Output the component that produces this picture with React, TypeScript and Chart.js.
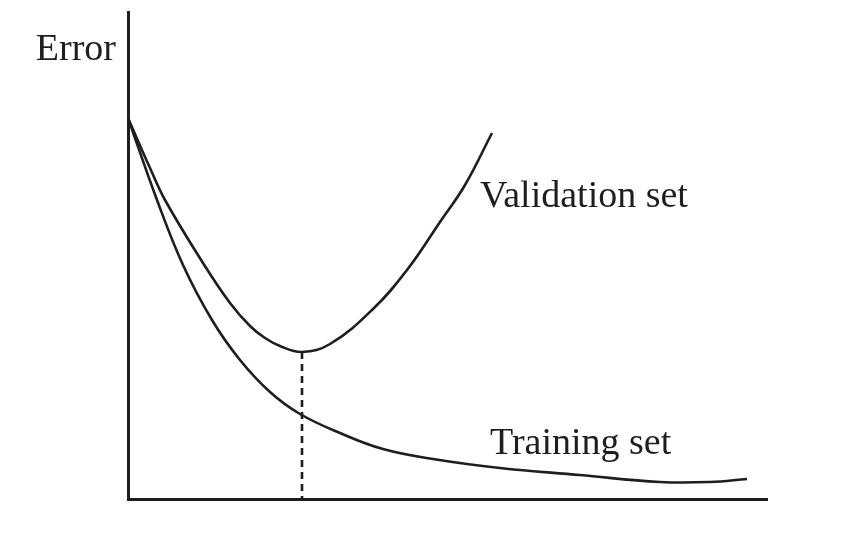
import React, { useEffect, useRef } from "react";
import { Chart, registerables } from "chart.js";

Chart.register(...registerables);

// Values (x: training time units, y: error units)
const validationX = [0, 22, 37, 75, 102, 122, 137, 152, 174, 202, 245, 279, 312, 337, 364];
const validationY = [381, 331, 299, 236, 196, 173, 161, 153, 147, 155, 190, 229, 277, 314, 366];
const trainingX = [0, 29, 55, 84, 112, 142, 172, 212, 255, 305, 372, 452, 532, 582, 619];
const trainingY = [381, 299, 234, 179, 139, 107, 85, 66, 50, 40, 31, 24, 17, 17, 20];
const stopX = [174, 174];
const stopY = [147, 0];
const axisTitle = "Error";
const seriesLabels = ["Validation set", "Training set"];
const labelAnchorsX = [352, 362];
const labelAnchorsY = [292, 45];

const INK = "#1e1e1e";
const FONT = '38px "Liberation Serif", "DejaVu Serif", serif';

const toPoints = (xs: number[], ys: number[]) => xs.map((x, i) => ({ x, y: ys[i] }));

const textPlugin = {
  id: "textLabels",
  afterDraw(chart: any) {
    const ctx = chart.ctx;
    const xs = chart.scales.x;
    const ys = chart.scales.y;
    ctx.save();
    ctx.fillStyle = INK;
    ctx.font = FONT;
    ctx.textBaseline = "alphabetic";
    ctx.textAlign = "left";
    seriesLabels.forEach((t, i) => {
      ctx.fillText(t, xs.getPixelForValue(labelAnchorsX[i]), ys.getPixelForValue(labelAnchorsY[i]));
    });
    ctx.textAlign = "right";
    ctx.fillText(axisTitle, chart.chartArea.left - 12, 60);
    ctx.restore();
  },
};

export default function App() {
  const ref = useRef<HTMLCanvasElement | null>(null);
  useEffect(() => {
    if (!ref.current) return;
    const chart = new Chart(ref.current, {
      type: "line",
      data: {
        datasets: [
          {
            label: seriesLabels[0],
            data: toPoints(validationX, validationY),
            borderColor: INK,
            borderWidth: 2.6,
            pointRadius: 0,
            tension: 0.4,
            fill: false,
          },
          {
            label: seriesLabels[1],
            data: toPoints(trainingX, trainingY),
            borderColor: INK,
            borderWidth: 2.6,
            pointRadius: 0,
            tension: 0.4,
            fill: false,
          },
          {
            label: "stop",
            data: toPoints(stopX, stopY),
            borderColor: INK,
            borderWidth: 2.6,
            borderDash: [7, 5],
            pointRadius: 0,
            fill: false,
          },
        ],
      },
      plugins: [textPlugin],
      options: {
        animation: false,
        responsive: false,
        maintainAspectRatio: false,
        layout: { padding: { left: 128, right: 81, top: 12, bottom: 39 } },
        plugins: { legend: { display: false }, tooltip: { enabled: false }, title: { display: false } },
        scales: {
          x: {
            type: "linear",
            min: 0,
            max: 639,
            grid: { display: false, drawTicks: false },
            ticks: { display: false },
            border: { display: true, color: INK, width: 3 },
          },
          y: {
            type: "linear",
            min: 0,
            max: 487,
            grid: { display: false, drawTicks: false },
            ticks: { display: false },
            border: { display: true, color: INK, width: 3 },
          },
        },
      },
    } as any);
    return () => chart.destroy();
  }, []);
  return (
    <div style={{ position: "absolute", left: 0, top: 0, width: 848, height: 538, background: "#fff" }}>
      <canvas ref={ref} width={848} height={538} style={{ width: 848, height: 538, display: "block" }} />
    </div>
  );
}
